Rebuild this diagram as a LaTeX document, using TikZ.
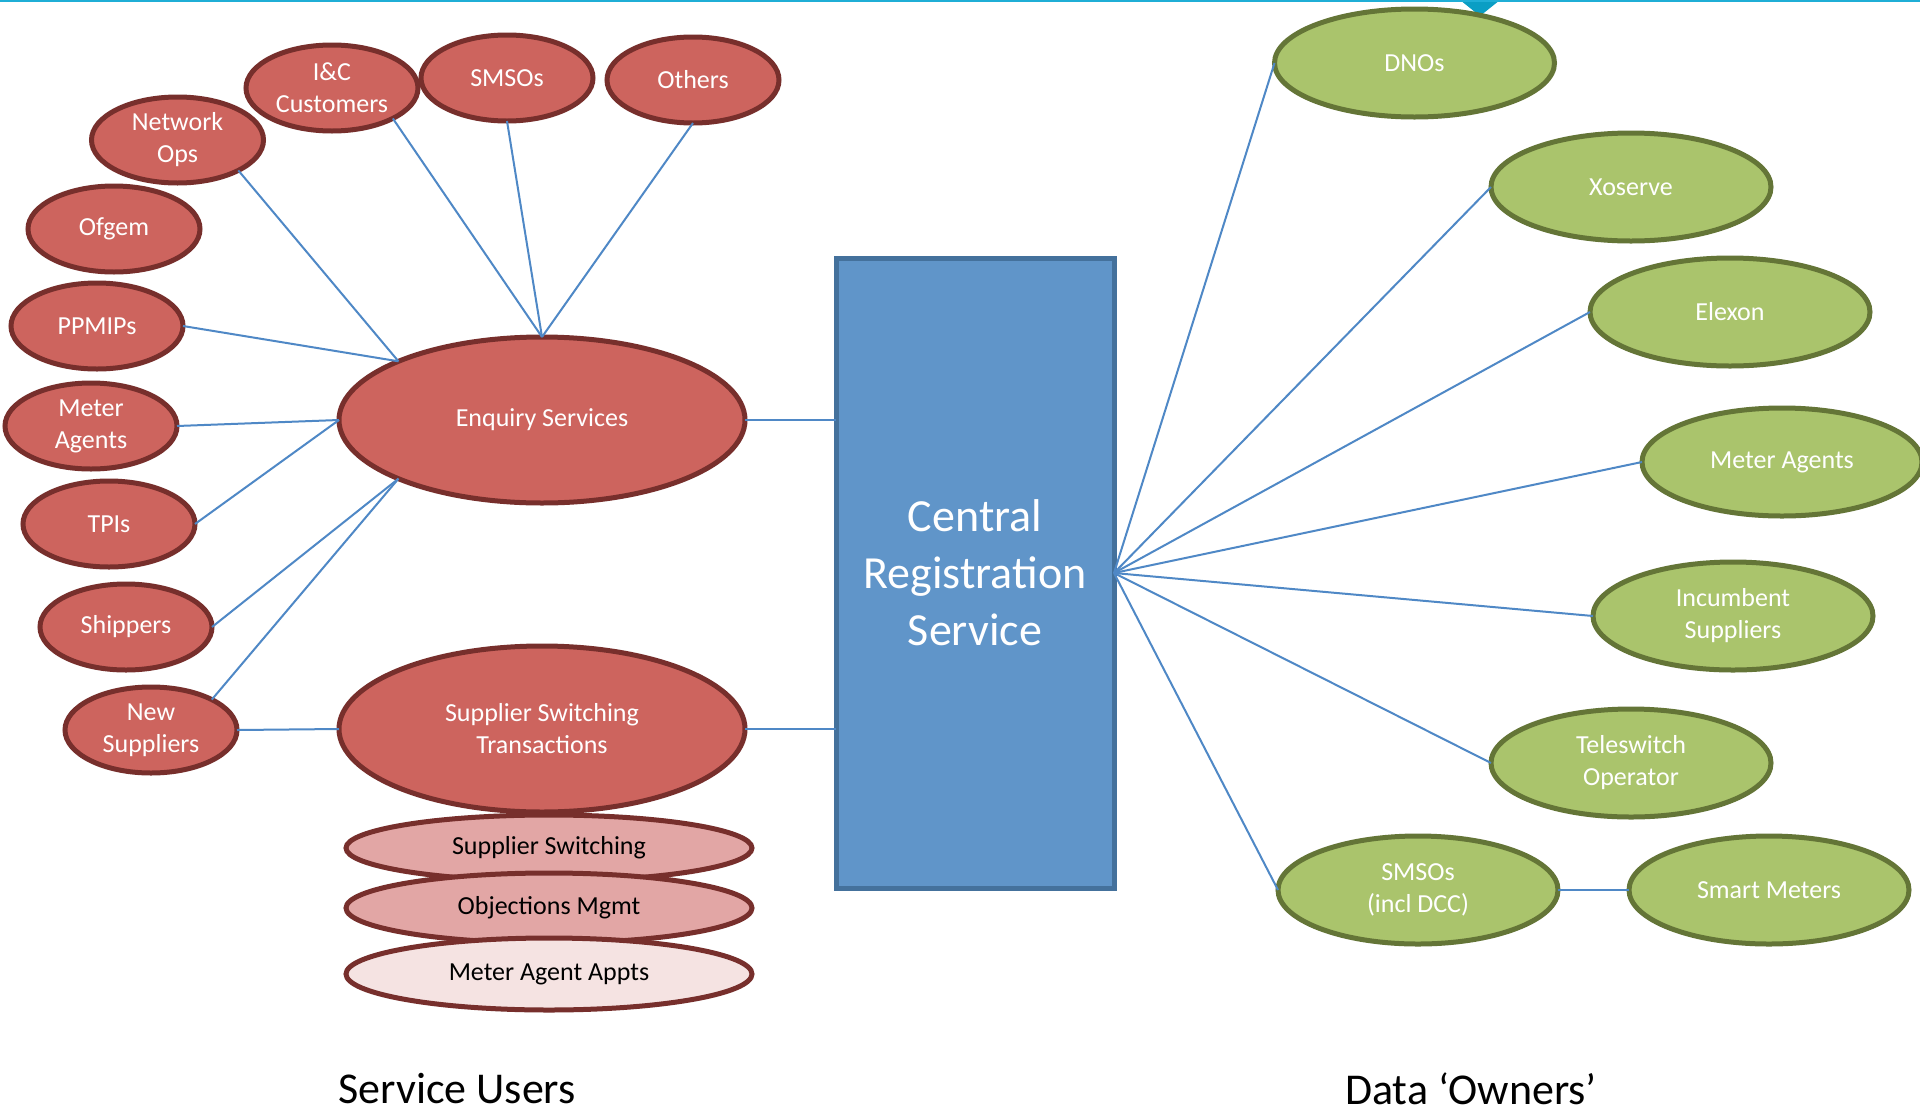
\documentclass[tikz,border=0pt]{standalone}
\usepackage{fontspec}
\setmainfont{Carlito}
\usetikzlibrary{shapes.geometric,calc}
\definecolor{redfill}{HTML}{CD645E}
\definecolor{redline}{HTML}{772F2C}
\definecolor{pinkfill}{HTML}{E2A6A5}
\definecolor{palefill}{HTML}{F5E3E2}
\definecolor{greenfill}{HTML}{AAC46C}
\definecolor{greenline}{HTML}{647537}
\definecolor{boxfill}{HTML}{6095C9}
\definecolor{boxline}{HTML}{44719C}
\definecolor{linkblue}{HTML}{4F88C6}
\definecolor{topcyan}{HTML}{1FAED6}
\definecolor{toptri}{HTML}{0A9EC4}
\tikzset{
  x=1pt,y=-1pt,
  oval/.style={ellipse,inner sep=0pt,outer sep=0pt,align=center,line width=5pt,
    font=\fontsize{26}{32}\selectfont},
  smallred/.style={oval,draw=redline,fill=redfill,text=white,minimum width=172pt,minimum height=86pt},
  bigred/.style={oval,draw=redline,fill=redfill,text=white,minimum width=406pt,minimum height=166pt},
  stackpink/.style={oval,draw=redline,fill=pinkfill,text=black,minimum width=406pt},
  stackpale/.style={oval,draw=redline,fill=palefill,text=black,minimum width=406pt},
  greenoval/.style={oval,draw=greenline,fill=greenfill,text=white,minimum width=280pt,minimum height=108pt},
  centralbox/.style={draw=boxline,fill=boxfill,text=white,line width=5pt,inner sep=0pt,outer sep=0pt,
    align=center,minimum width=278pt,minimum height=630pt,
    font=\fontsize{46}{57}\selectfont},
  caption/.style={text=black,inner sep=0pt,font=\fontsize{44}{50}\selectfont},
  link/.style={draw=linkblue,line width=2pt}
}
\begin{document}
\begin{tikzpicture}
\useasboundingbox (0,0) rectangle (1920,1109);
\fill[white] (0,0) rectangle (1920,1109);
\fill[toptri] (1460,0) -- (1500,0) -- (1480,16) -- cycle;
\fill[topcyan] (0,0) rectangle (1920,2);

\node[smallred] (netops) at (177.5,140) {Network\\Ops};
\node[smallred] (ic) at (332,88) {I\&C\\Customers};
\node[smallred] (smsou) at (507,78) {SMSOs};
\node[smallred] (others) at (693,80) {Others};
\node[smallred] (ofgem) at (114,229) {Ofgem};
\node[smallred] (ppmips) at (97,326) {PPMIPs};
\node[smallred] (metu) at (91,426) {Meter\\Agents};
\node[smallred] (tpis) at (109,524) {TPIs};
\node[smallred] (shippers) at (126,627) {Shippers};
\node[smallred] (newsup) at (151,730) {New\\Suppliers};

\node[bigred] (enq) at (542,420) {Enquiry Services};
\node[bigred] (trans) at (542,729) {Supplier Switching\\Transactions};
\node[stackpink,minimum height=66pt] (ss) at (549,848) {Supplier Switching};
\node[stackpink,minimum height=70pt] (obj) at (549,908) {Objections Mgmt};
\node[stackpale,minimum height=72pt] (appt) at (549,974) {Meter Agent Appts};

\node[centralbox] (crs) at (975,573) {Central\\Registration\\Service};

\node[greenoval] (dno) at (1414.5,63) {DNOs};
\node[greenoval] (xo) at (1631,187) {Xoserve};
\node[greenoval] (elx) at (1730,312) {Elexon};
\node[greenoval] (metd) at (1782,462) {Meter Agents};
\node[greenoval] (inc) at (1733,616) {Incumbent\\Suppliers};
\node[greenoval] (tele) at (1631,763) {Teleswitch\\Operator};
\node[greenoval] (smsod) at (1418,890) {SMSOs\\(incl DCC)};
\node[greenoval] (smart) at (1769,890) {Smart Meters};

\node[caption] (su) at (457,1089) {Service Users};
\node[caption] (dow) at (1471,1089) {Data ‘Owners’};

\draw[link] (netops.south east) -- (enq.north west);
\draw[link] (ic.south east) -- (enq.north);
\draw[link] (smsou.south) -- (enq.north);
\draw[link] (others.south) -- (enq.north);
\draw[link] (ppmips.east) -- (enq.north west);
\draw[link] (metu.east) -- (enq.west);
\draw[link] (tpis.east) -- (enq.west);
\draw[link] (shippers.east) -- (enq.south west);
\draw[link] (newsup.north east) -- (enq.south west);
\draw[link] (newsup.east) -- (trans.west);
\draw[link] (enq.east) -- (enq.east -| crs.west);
\draw[link] (trans.east) -- (trans.east -| crs.west);
\foreach \t in {dno,xo,elx,metd,inc,tele,smsod}{
  \draw[link] (crs.east) -- (\t.west);
}
\draw[link] (smsod.east) -- (smart.west);
\end{tikzpicture}
\end{document}
